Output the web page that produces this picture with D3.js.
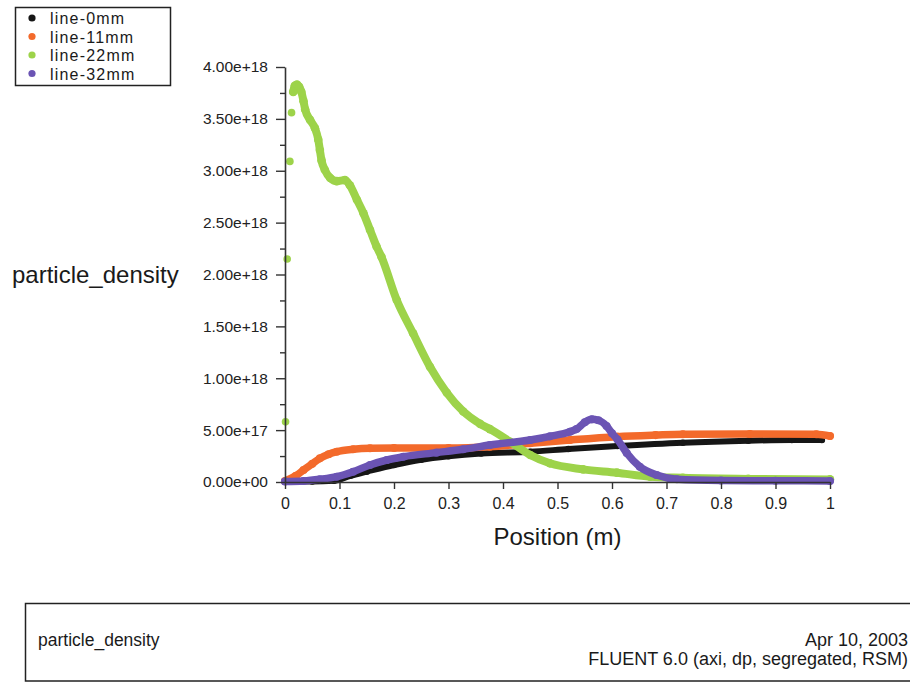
<!DOCTYPE html>
<html>
<head>
<meta charset="utf-8">
<script src="https://cdn.jsdelivr.net/npm/d3@7"></script>
<style>
  html, body { margin: 0; padding: 0; background: #fff; }
  svg { display: block; font-family: "Liberation Sans", Arial, sans-serif; }
</style>
</head>
<body>
<script>
// ---------------- DATA ----------------
const seriesNames = ["line-0mm", "line-11mm", "line-22mm", "line-32mm"];
const seriesColors = ["#161616", "#f36a2b", "#9dd34a", "#6b54b4"];

const xTickValues = [0, 0.1, 0.2, 0.3, 0.4, 0.5, 0.6, 0.7, 0.8, 0.9, 1];
const xTickLabels = ["0", "0.1", "0.2", "0.3", "0.4", "0.5", "0.6", "0.7", "0.8", "0.9", "1"];
const yTickValues = [0, 0.5e18, 1e18, 1.5e18, 2e18, 2.5e18, 3e18, 3.5e18, 4e18];
const yTickLabels = ["0.00e+00", "5.00e+17", "1.00e+18", "1.50e+18", "2.00e+18", "2.50e+18", "3.00e+18", "3.50e+18", "4.00e+18"];
const yMinorTicks = [0.25e18, 0.75e18, 1.25e18, 1.75e18, 2.25e18, 2.75e18, 3.25e18, 3.75e18];

// line-0mm
const line0X = [0, 0.05, 0.09, 0.12, 0.15, 0.2, 0.25, 0.3, 0.36, 0.45, 0.52, 0.61, 0.73, 0.85, 0.93, 0.985];
const line0Y = [0.005e18, 0.005e18, 0.012e18, 0.06e18, 0.1e18, 0.164e18, 0.215e18, 0.248e18, 0.275e18, 0.292e18, 0.318e18, 0.347e18, 0.379e18, 0.398e18, 0.405e18, 0.405e18];

// line-11mm
const line11X = [0, 0.02, 0.034, 0.05, 0.064, 0.08, 0.095, 0.125, 0.156, 0.2, 0.3, 0.376, 0.45, 0.523, 0.609, 0.68, 0.73, 0.853, 0.975, 1.0];
const line11Y = [0.01e18, 0.06e18, 0.116e18, 0.175e18, 0.228e18, 0.268e18, 0.292e18, 0.315e18, 0.325e18, 0.327e18, 0.327e18, 0.34e18, 0.373e18, 0.405e18, 0.437e18, 0.452e18, 0.46e18, 0.463e18, 0.46e18, 0.443e18];

// line-22mm : isolated first samples, then the dense curve
const line22StartX = [0.001, 0.004, 0.009, 0.012];
const line22StartY = [0.58e18, 2.15e18, 3.09e18, 3.56e18];
const line22X = [0.015, 0.018, 0.022, 0.026, 0.030, 0.034, 0.037, 0.046, 0.055, 0.061, 0.064, 0.067, 0.073, 0.083, 0.095, 0.110, 0.119, 0.132, 0.144, 0.156, 0.168, 0.177, 0.205, 0.235, 0.266, 0.297, 0.327, 0.358, 0.376, 0.413, 0.45, 0.486, 0.547, 0.609, 0.67, 0.73, 0.85, 1.0];
const line22Y = [3.76e18, 3.82e18, 3.83e18, 3.81e18, 3.76e18, 3.67e18, 3.59e18, 3.49e18, 3.41e18, 3.30e18, 3.20e18, 3.10e18, 3.01e18, 2.93e18, 2.90e18, 2.91e18, 2.86e18, 2.72e18, 2.59e18, 2.43e18, 2.27e18, 2.17e18, 1.754e18, 1.433e18, 1.11e18, 0.86e18, 0.68e18, 0.56e18, 0.51e18, 0.388e18, 0.26e18, 0.18e18, 0.122e18, 0.09e18, 0.051e18, 0.041e18, 0.03e18, 0.025e18];

// line-32mm
const line32X = [0, 0.034, 0.064, 0.095, 0.125, 0.156, 0.187, 0.217, 0.278, 0.327, 0.376, 0.45, 0.486, 0.523, 0.535, 0.55, 0.563, 0.575, 0.59, 0.6, 0.61, 0.627, 0.651, 0.682, 0.719, 0.8, 0.9, 1.0];
const line32Y = [0.005e18, 0.01e18, 0.026e18, 0.051e18, 0.099e18, 0.164e18, 0.212e18, 0.244e18, 0.283e18, 0.315e18, 0.357e18, 0.405e18, 0.44e18, 0.485e18, 0.51e18, 0.575e18, 0.604e18, 0.595e18, 0.54e18, 0.47e18, 0.41e18, 0.28e18, 0.147e18, 0.067e18, 0.026e18, 0.015e18, 0.012e18, 0.01e18];

// ---------------- DRAW ----------------
const W = 910, H = 682;
const svg = d3.select("body").append("svg").attr("width", W).attr("height", H);

const x = d3.scaleLinear().domain([0, 1]).range([285, 830]);
const y = d3.scaleLinear().domain([0, 4e18]).range([482, 67]);

const zip = (xs, ys) => xs.map((v, i) => [v, ys[i]]);
const series = [
  { pts: zip(line0X, line0Y), w: 6 },
  { pts: zip(line11X, line11Y), w: 7.5 },
  { pts: zip(line22X, line22Y), w: 8, extra: zip(line22StartX, line22StartY) },
  { pts: zip(line32X, line32Y), w: 7.5 }
];

const line = d3.line().x(d => x(d[0])).y(d => y(d[1])).curve(d3.curveMonotoneX);
const plot = svg.append("g");
series.forEach((s, i) => {
  const g = plot.append("g");
  g.append("path").datum(s.pts)
    .attr("d", line)
    .attr("fill", "none")
    .attr("stroke", seriesColors[i])
    .attr("stroke-width", s.w)
    .attr("stroke-linecap", "round")
    .attr("stroke-linejoin", "round");
  g.selectAll("circle.p").data(s.pts).join("circle")
    .attr("cx", d => x(d[0])).attr("cy", d => y(d[1]))
    .attr("r", s.w / 2 + 0.3).attr("fill", seriesColors[i]);
  if (s.extra) {
    g.selectAll("circle.e").data(s.extra).join("circle")
      .attr("cx", d => x(d[0])).attr("cy", d => y(d[1]))
      .attr("r", 3.8).attr("fill", seriesColors[i]);
  }
});

// Axes
const axisColor = "#333";
const yAxis = d3.axisLeft(y).tickValues(yTickValues)
  .tickFormat((d, i) => yTickLabels[i]).tickSize(9).tickSizeOuter(0).tickPadding(8);
const gy = svg.append("g").attr("transform", "translate(285,0)").call(yAxis);
gy.select(".domain").attr("stroke", axisColor).attr("stroke-width", 1.6);
gy.selectAll(".tick line").attr("stroke", axisColor).attr("stroke-width", 1.4);
gy.selectAll("text").attr("font-size", 15.5).attr("fill", "#222")
  .attr("font-family", "'Liberation Sans', Arial, sans-serif");

const yMinor = d3.axisLeft(y).tickValues(yMinorTicks).tickFormat("").tickSize(5).tickSizeOuter(0);
const gym = svg.append("g").attr("transform", "translate(285,0)").call(yMinor);
gym.select(".domain").remove();
gym.selectAll(".tick line").attr("stroke", axisColor).attr("stroke-width", 1.4);

const xAxis = d3.axisBottom(x).tickValues(xTickValues)
  .tickFormat((d, i) => xTickLabels[i]).tickSize(7).tickSizeOuter(0).tickPadding(9);
const gx = svg.append("g").attr("transform", "translate(0,482)").call(xAxis);
gx.select(".domain").attr("stroke", axisColor).attr("stroke-width", 1.6);
gx.selectAll(".tick line").attr("stroke", axisColor).attr("stroke-width", 1.4);
gx.selectAll("text").attr("font-size", 16).attr("fill", "#222")
  .attr("font-family", "'Liberation Sans', Arial, sans-serif");

// Axis titles
svg.append("text").attr("x", 12).attr("y", 283)
  .attr("font-size", 24).attr("fill", "#1a1a1a").text("particle_density");
svg.append("text").attr("x", (x(0) + x(1)) / 2).attr("y", 545)
  .attr("text-anchor", "middle").attr("font-size", 24).attr("fill", "#1a1a1a").text("Position (m)");

// Legend
const lg = svg.append("g");
lg.append("rect").attr("x", 15.5).attr("y", 7.5).attr("width", 155).attr("height", 78)
  .attr("fill", "#fff").attr("stroke", "#222").attr("stroke-width", 1.5);
seriesNames.forEach((n, i) => {
  const cy = 18 + i * 18.5;
  lg.append("circle").attr("cx", 32).attr("cy", cy).attr("r", 3.6).attr("fill", seriesColors[i]);
  lg.append("text").attr("x", 50).attr("y", cy + 6).attr("font-size", 16)
    .attr("letter-spacing", 1.2).attr("fill", "#1a1a1a").text(n);
});

// Footer box
svg.append("path").attr("d", "M 940 603.5 L 25.5 603.5 L 25.5 681 L 940 681")
  .attr("fill", "none").attr("stroke", "#222").attr("stroke-width", 1.5);
svg.append("text").attr("x", 38).attr("y", 646).attr("font-size", 17.5)
  .attr("fill", "#1a1a1a").text("particle_density");
svg.append("text").attr("x", 908).attr("y", 646).attr("text-anchor", "end")
  .attr("font-size", 18).attr("fill", "#1a1a1a").text("Apr 10, 2003");
svg.append("text").attr("x", 908).attr("y", 665).attr("text-anchor", "end")
  .attr("font-size", 18).attr("fill", "#1a1a1a").text("FLUENT 6.0 (axi, dp, segregated, RSM)");
</script>
</body>
</html>
